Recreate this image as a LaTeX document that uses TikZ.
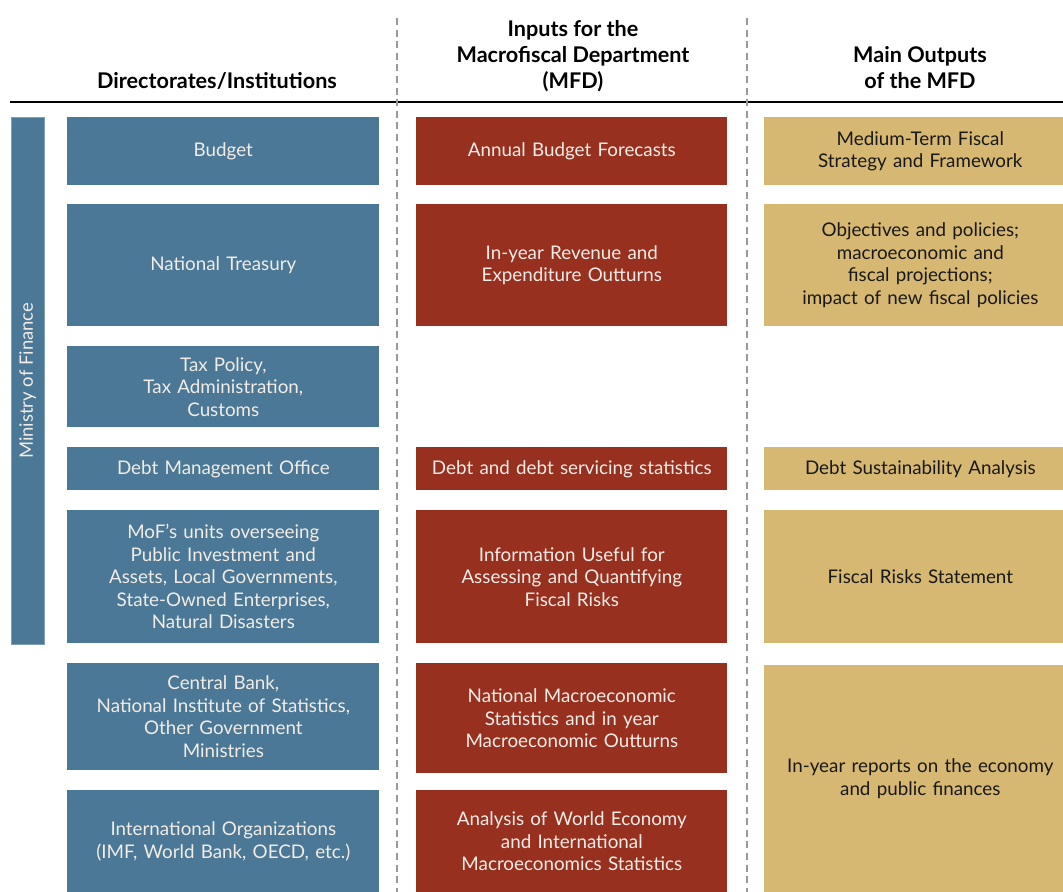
\documentclass[tikz,border=0pt]{standalone}
\usepackage{fontspec}
\setmainfont{Lato}
\usetikzlibrary{positioning}

\definecolor{mofblue}{HTML}{4A7896}
\definecolor{mfdred}{HTML}{983020}
\definecolor{outgold}{HTML}{D6B872}
\definecolor{boxtext}{HTML}{F2ECE6}

\begin{document}
\begin{tikzpicture}[x=0.02cm,y=-0.02cm,
 cell/.style={rectangle,anchor=north west,inner xsep=0pt,inner ysep=0pt,
   align=center,font=\fontsize{10.7}{12.8}\selectfont},
 dir/.style={cell,fill=mofblue,text=boxtext,minimum width=6.24cm,text width=6.24cm},
 inp/.style={cell,fill=mfdred,text=boxtext,minimum width=6.22cm,text width=6.22cm},
 outp/.style={cell,fill=outgold,text=black!90,minimum width=6.24cm,text width=6.24cm},
 head/.style={align=center,font=\fontsize{12.3}{14.8}\selectfont\bfseries},
 sep/.style={gray!80,line width=0.6pt,dash pattern=on 4pt off 2.6pt}]
\useasboundingbox (0,0) rectangle (1063,892);

% column heads and rules
\node[head,anchor=base] (h-dir) at (217,89) {Directorates/Institutions};
\node[head,anchor=base] (h-inp) at (573,89) {Inputs for the\\Macrofiscal Department\\(MFD)};
\node[head,anchor=base] (h-out) at (920,89) {Main Outputs\\of the MFD};
\draw[line width=1.6pt] (10,102) -- (1063,102);
\coordinate (s1-top) at (397,18); \coordinate (s1-bot) at (397,892);
\coordinate (s2-top) at (747,18); \coordinate (s2-bot) at (747,892);
\draw[sep] (s1-top) -- (s1-bot);
\draw[sep] (s2-top) -- (s2-bot);

% ministry band
\node[rectangle,fill=mofblue,draw=mofblue!70!white,line width=0.4pt,anchor=north west,
  minimum width=0.66cm,minimum height=10.54cm,inner sep=0pt] (mof) at (11,117) {};
\node[rotate=90,text=boxtext,font=\fontsize{10.5}{12}\selectfont] (mof-txt) at (mof.center) {Ministry of Finance};

% directorates
\foreach \id/\y/\h/\txt in {
  budget/117/68/{Budget},
  treasury/204/122/{National Treasury},
  tax/346/81/{Tax Policy,\\Tax Administration,\\Customs},
  dmo/447/43/{Debt Management Office},
  units/510/133/{MoF’s units overseeing\\Public Investment and\\Assets, Local Governments,\\State-Owned Enterprises,\\Natural Disasters},
  cb/663/107/{Central Bank,\\National Institute of Statistics,\\Other Government\\Ministries},
  intl/790/102/{International Organizations\\(IMF, World Bank, OECD, etc.)}}{
  \node[dir,minimum height=\h*0.02cm] (d-\id) at (67,\y) {\txt};
}

% inputs for the MFD
\foreach \id/\y/\h/\txt in {
  forecasts/117/68/{Annual Budget Forecasts},
  outturns/204/122/{In-year Revenue and\\Expenditure Outturns},
  debt/447/43/{Debt and debt servicing statistics},
  risks/510/133/{Information Useful for\\Assessing and Quantifying\\Fiscal Risks},
  macro/663/110/{National Macroeconomic\\Statistics and in year\\Macroeconomic Outturns},
  world/790/102/{Analysis of World Economy\\and International\\Macroeconomics Statistics}}{
  \node[inp,minimum height=\h*0.02cm] (i-\id) at (416,\y) {\txt};
}

% outputs of the MFD (run off the right edge)
\foreach \id/\y/\h/\txt in {
  mtfs/117/68/{Medium-Term Fiscal\\Strategy and Framework},
  policies/204/122/{Objectives and policies;\\macroeconomic and\\fiscal projections;\\impact of new fiscal policies},
  dsa/447/43/{Debt Sustainability Analysis},
  frs/510/133/{Fiscal Risks Statement},
  reports/665/227/{In-year reports on the economy\\and public finances}}{
  \node[outp,minimum height=\h*0.02cm] (o-\id) at (764,\y) {\txt};
}
\end{tikzpicture}
\end{document}
